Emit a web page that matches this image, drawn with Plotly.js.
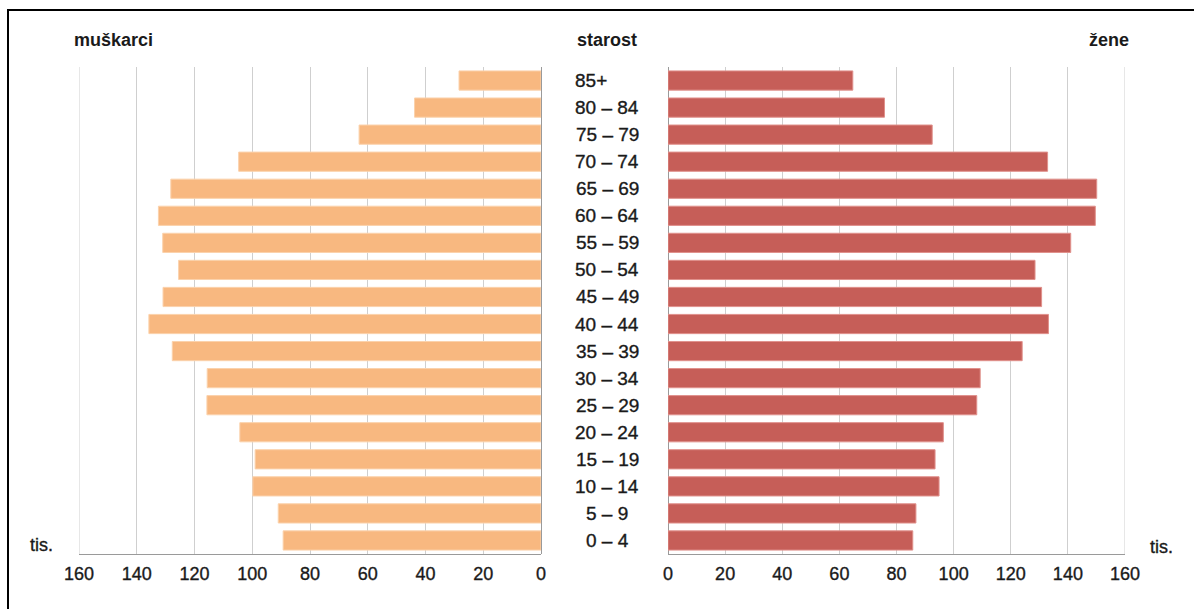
<!DOCTYPE html>
<html>
<head>
<meta charset="utf-8">
<script src="https://cdn.plot.ly/plotly-3.0.1.min.js"></script>
<style>
  html, body { margin: 0; padding: 0; background: #fff; }
  #chart { width: 1194px; height: 609px; }
  #chart .xtick text, #chart .x2tick text, #chart .annotation-text.reg {
    stroke: #1a1a1a !important; stroke-width: 0.35px !important;
  }
</style>
</head>
<body>
<div id="chart"></div>
<script>
// Age groups, bottom to top
const ageGroups = ['0 – 4', '5 – 9', '10 – 14', '15 – 19', '20 – 24', '25 – 29', '30 – 34', '35 – 39',
  '40 – 44', '45 – 49', '50 – 54', '55 – 59', '60 – 64', '65 – 69', '70 – 74', '75 – 79', '80 – 84', '85+'];
// Men (thousands)
const men = [89.3, 91, 99.8, 99, 104.3, 115.7, 115.6, 127.7, 135.8, 130.9, 125.5, 131, 132.5, 128.2, 104.7, 63, 43.8, 28.4];
// Women (thousands)
const women = [85.7, 86.8, 94.9, 93.5, 96.4, 108.1, 109.3, 124, 133.2, 130.8, 128.5, 141, 149.6, 150.1, 132.9, 92.5, 75.8, 64.7];
const tickVals = [0, 20, 40, 60, 80, 100, 120, 140, 160];
const tickText = ['0', '20', '40', '60', '80', '100', '120', '140', '160'];
const labelMen = 'muškarci';
const labelAge = 'starost';
const labelWomen = 'žene';
const labelUnit = 'tis.';

const W = 1194, H = 609;
const plotTop = 67, plotBottom = 554;
const px = v => v / W;
const py = v => (plotBottom - v) / (plotBottom - plotTop);

const FONT = '"Liberation Sans", Arial, Helvetica, sans-serif';
const textColor = '#1a1a1a';
const gridColor = '#cfcfcf';
const maxVal = tickVals[tickVals.length - 1];

const traces = [
  {
    type: 'bar', orientation: 'h', x: men, y: ageGroups, xaxis: 'x', yaxis: 'y',
    marker: { color: '#F8B880', line: { color: '#FBD2AC', width: 1 } },
    hoverinfo: 'x+y', showlegend: false
  },
  {
    type: 'bar', orientation: 'h', x: women, y: ageGroups, xaxis: 'x2', yaxis: 'y',
    marker: { color: '#C65E58', line: { color: '#E0918C', width: 1 } },
    hoverinfo: 'x+y', showlegend: false
  }
];

const axisCommon = {
  tickvals: tickVals, ticktext: tickText,
  showgrid: true, gridcolor: gridColor, gridwidth: 1,
  zeroline: true, zerolinecolor: '#9a9a9a', zerolinewidth: 1,
  showline: true, linecolor: '#9a9a9a', linewidth: 1,
  ticks: 'outside', ticklen: 3, tickcolor: 'rgba(0,0,0,0)',
  tickfont: { family: FONT, size: 18, color: textColor },
  fixedrange: true
};

const annotations = [];
ageGroups.forEach(a => {
  annotations.push({
    text: a, xref: 'paper', yref: 'y', x: px(607), y: a,
    xanchor: 'center', yanchor: 'middle', showarrow: false,
    xshift: a === '85+' ? -16 : 0,
    font: { family: FONT, size: 19, color: textColor }
  });
});
annotations.push(
  { text: '<b>' + labelMen + '</b>', xref: 'paper', yref: 'paper', x: px(72), y: py(40),
    xanchor: 'left', yanchor: 'middle', showarrow: false, font: { family: FONT, size: 18, color: textColor } },
  { text: '<b>' + labelAge + '</b>', xref: 'paper', yref: 'paper', x: px(607), y: py(40),
    xanchor: 'center', yanchor: 'middle', showarrow: false, font: { family: FONT, size: 18, color: textColor } },
  { text: '<b>' + labelWomen + '</b>', xref: 'paper', yref: 'paper', x: px(1131), y: py(40),
    xanchor: 'right', yanchor: 'middle', showarrow: false, font: { family: FONT, size: 18, color: textColor } },
  { text: labelUnit, xref: 'paper', yref: 'paper', x: px(28), y: py(545),
    xanchor: 'left', yanchor: 'middle', showarrow: false, font: { family: FONT, size: 18, color: textColor } },
  { text: labelUnit, xref: 'paper', yref: 'paper', x: px(1148), y: py(547),
    xanchor: 'left', yanchor: 'middle', showarrow: false, font: { family: FONT, size: 18, color: textColor } }
);

const layout = {
  width: W, height: H,
  margin: { l: 0, r: 0, t: plotTop, b: H - plotBottom, pad: 0 },
  paper_bgcolor: '#ffffff', plot_bgcolor: 'rgba(0,0,0,0)',
  bargap: 0.29,
  xaxis: Object.assign({}, axisCommon, { domain: [px(79), px(541)], range: [maxVal, 0] }),
  xaxis2: Object.assign({}, axisCommon, { domain: [px(668), px(1125)], range: [0, maxVal] }),
  yaxis: { type: 'category', categoryorder: 'array', categoryarray: ageGroups, range: [-0.5, 17.5],
           showticklabels: false, showgrid: false, zeroline: false, showline: false, ticks: '', fixedrange: true },
  annotations: annotations,
  shapes: [
    // outer gridlines at the range ends (Plotly skips gridlines on the plot edge)
    { type: 'line', xref: 'x', yref: 'paper', x0: maxVal, x1: maxVal, y0: 0, y1: 1,
      layer: 'below', line: { color: gridColor, width: 1 } },
    { type: 'line', xref: 'x2', yref: 'paper', x0: maxVal, x1: maxVal, y0: 0, y1: 1,
      layer: 'below', line: { color: gridColor, width: 1 } },
    // frame
    { type: 'line', xref: 'paper', yref: 'paper', x0: px(8), x1: px(8), y0: py(10), y1: py(H + 5),
      line: { color: '#000', width: 2 } },
    { type: 'line', xref: 'paper', yref: 'paper', x0: px(7), x1: px(W + 5), y0: py(10), y1: py(10),
      line: { color: '#000', width: 2 } }
  ],
  font: { family: FONT, color: textColor }
};

function thicken() {
  document.querySelectorAll('#chart .annotation-text').forEach(t => {
    if (!/<b>|font-weight/.test(t.innerHTML)) t.classList.add('reg');
  });
  document.querySelectorAll('#chart .xtick text, #chart .x2tick text').forEach(t => {
    t.style.stroke = textColor; t.style.strokeWidth = '0.35px';
  });
}

Plotly.newPlot('chart', traces, layout, { displayModeBar: false, staticPlot: true }).then(thicken);
</script>
</body>
</html>
